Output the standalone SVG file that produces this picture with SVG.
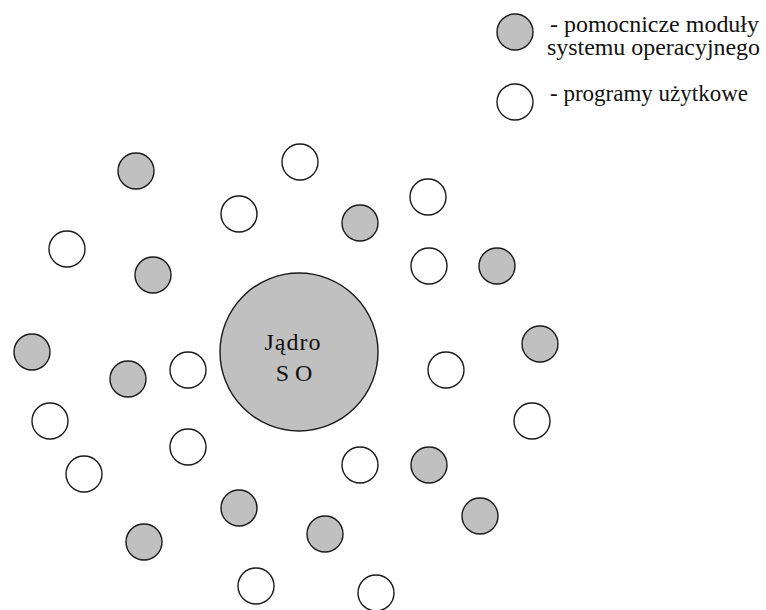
<svg xmlns="http://www.w3.org/2000/svg" width="766" height="610" viewBox="0 0 766 610">
  <style>
    .mod { fill: #c0c0c0; stroke: #1a1a1a; stroke-width: 1.4; }
    .app { fill: #ffffff; stroke: #1a1a1a; stroke-width: 1.4; }
    .txt { font-family: "Liberation Serif", "Times New Roman", serif; fill: #111111; }
  </style>
  <rect width="766" height="610" fill="#ffffff"/>

  <!-- legend -->
  <g id="legend">
    <circle class="mod" cx="515" cy="32" r="18"/>
    <text class="txt" x="550" y="32" font-size="23" textLength="209" lengthAdjust="spacingAndGlyphs">- pomocnicze moduły</text>
    <text class="txt" x="547" y="55" font-size="23" textLength="213" lengthAdjust="spacingAndGlyphs">systemu  operacyjnego</text>
    <circle class="app" cx="515" cy="102" r="18"/>
    <text class="txt" x="550" y="101" font-size="23" textLength="198" lengthAdjust="spacingAndGlyphs">- programy użytkowe</text>
  </g>

  <!-- kernel -->
  <g id="kernel">
    <circle class="mod" cx="299" cy="352" r="79"/>
    <text class="txt" x="293" y="350" font-size="24" text-anchor="middle" letter-spacing="1">Jądro</text>
    <text class="txt" x="294" y="381" font-size="24" text-anchor="middle">S O</text>
  </g>

  <!-- auxiliary OS modules -->
  <g id="m1"><circle class="mod" cx="136" cy="171" r="18"/></g>
  <g id="m2"><circle class="mod" cx="153" cy="275" r="18"/></g>
  <g id="m3"><circle class="mod" cx="32" cy="352" r="18"/></g>
  <g id="m4"><circle class="mod" cx="128" cy="379" r="18"/></g>
  <g id="m5"><circle class="mod" cx="360" cy="223" r="18"/></g>
  <g id="m6"><circle class="mod" cx="497" cy="266" r="18"/></g>
  <g id="m7"><circle class="mod" cx="540" cy="344" r="18"/></g>
  <g id="m8"><circle class="mod" cx="429" cy="465" r="18"/></g>
  <g id="m9"><circle class="mod" cx="480" cy="516" r="18"/></g>
  <g id="m10"><circle class="mod" cx="239" cy="508" r="18"/></g>
  <g id="m11"><circle class="mod" cx="325" cy="534" r="18"/></g>
  <g id="m12"><circle class="mod" cx="144" cy="542" r="18"/></g>

  <!-- user programs -->
  <g id="a1"><circle class="app" cx="300" cy="162" r="18"/></g>
  <g id="a2"><circle class="app" cx="239" cy="214" r="18"/></g>
  <g id="a3"><circle class="app" cx="428" cy="197" r="18"/></g>
  <g id="a4"><circle class="app" cx="429" cy="266" r="18"/></g>
  <g id="a5"><circle class="app" cx="67" cy="249" r="18"/></g>
  <g id="a6"><circle class="app" cx="188" cy="370" r="18"/></g>
  <g id="a7"><circle class="app" cx="188" cy="447" r="18"/></g>
  <g id="a8"><circle class="app" cx="446" cy="370" r="18"/></g>
  <g id="a9"><circle class="app" cx="532" cy="421" r="18"/></g>
  <g id="a10"><circle class="app" cx="50" cy="421" r="18"/></g>
  <g id="a11"><circle class="app" cx="84" cy="474" r="18"/></g>
  <g id="a12"><circle class="app" cx="360" cy="465" r="18"/></g>
  <g id="a13"><circle class="app" cx="256" cy="586" r="18"/></g>
  <g id="a14"><circle class="app" cx="376" cy="593" r="18"/></g>

  <!-- no connectors in this diagram -->
  <g id="connectors"/>
</svg>
